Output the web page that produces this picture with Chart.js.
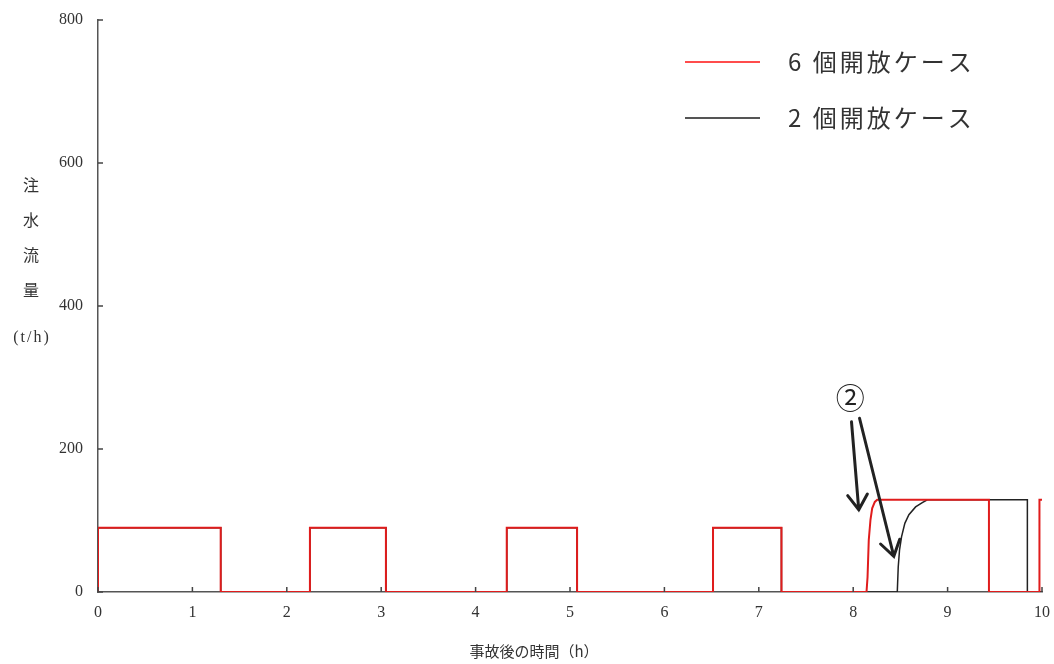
<!DOCTYPE html>
<html lang="ja">
<head>
<meta charset="utf-8">
<title>注水流量</title>
<script src="https://cdn.jsdelivr.net/npm/chart.js@4.4.1/dist/chart.umd.min.js"></script>
<style>
  body { margin: 0; background: #fff; }
  #wrap { width: 1054px; height: 664px; }
</style>
</head>
<body>
<div id="wrap"><canvas id="flowChart" width="1054" height="664"></canvas></div>
<script>
// --- Data ---

// 6 個開放ケース (red)
const redTimes = [0, 0, 1.30, 1.30, 2.245, 2.245, 3.05, 3.05, 4.33, 4.33, 5.075, 5.075,
    6.515, 6.515, 7.24, 7.24, 8.141, 8.152, 8.165, 8.183, 8.201, 8.229, 8.254,
    9.438, 9.438, 9.973, 9.973, 10.0];
const redFlow = [0, 90, 90, 0, 0, 90, 90, 0, 0, 90, 90, 0,
    0, 90, 90, 0, 0, 21, 73, 101, 117, 126, 129,
    129, 0, 0, 129, 129];

// 2 個開放ケース (black)
const blackTimes = [0, 0, 1.30, 1.30, 2.245, 2.245, 3.05, 3.05, 4.33, 4.33, 5.075, 5.075,
    6.515, 6.515, 7.24, 7.24, 8.467, 8.477, 8.491, 8.512, 8.547, 8.590, 8.661, 8.732, 8.785,
    9.845, 9.845, 10.0];
const blackFlow = [0, 90, 90, 0, 0, 90, 90, 0, 0, 90, 90, 0,
    0, 90, 90, 0, 0, 35, 59, 77, 96, 108, 119, 125, 129,
    129, 0, 0];

const seriesLabels = ['6 個開放ケース', '2 個開放ケース'];
const xTicks = [0, 1, 2, 3, 4, 5, 6, 7, 8, 9, 10];
const yTicks = [0, 200, 400, 600, 800];

// annotation ②: arrow tails / heads in data units (h, t/h)
const arrowTails = [[7.982, 238], [8.067, 243]];
const arrowHeads = [[8.059, 115], [8.43, 50]];
const markLabel = '②';
const markAt = [7.97, 271];

const xTitle = '事故後の時間（h）';
const yTitleChars = ['注', '水', '流', '量', '(t/h)'];

// --- Helpers ---

const SERIF = "'Liberation Serif', 'Noto Sans CJK JP', serif";
const JP = "'Noto Sans CJK JP', 'Liberation Serif', sans-serif";

function toPoints(xs, ys) {
    return xs.map((x, i) => ({ x: x, y: ys[i] }));
}

// inner tick marks, axis titles, legend and the ② arrows
const decorPlugin = {
    id: 'decor',
    afterDraw(chart) {
        const { ctx, chartArea, scales } = chart;
        const xs = scales.x, ys = scales.y;
        ctx.save();

        // tick marks pointing inward
        ctx.strokeStyle = '#444';
        ctx.lineWidth = 1.5;
        ctx.beginPath();
        xTicks.forEach(t => {
            const px = xs.getPixelForValue(t);
            ctx.moveTo(px, chartArea.bottom);
            ctx.lineTo(px, chartArea.bottom - 5);
        });
        yTicks.forEach(t => {
            const py = ys.getPixelForValue(t);
            ctx.moveTo(chartArea.left, py);
            ctx.lineTo(chartArea.left + 5, py);
        });
        ctx.stroke();

        // y axis title, stacked
        ctx.fillStyle = '#333';
        ctx.textAlign = 'center';
        ctx.textBaseline = 'middle';
        yTitleChars.forEach((c, i) => {
            if (i < 4) {
                ctx.font = '16px ' + JP;
                ctx.fillText(c, 31, 185 + i * 35);
            } else {
                ctx.font = '16px ' + SERIF;
                ctx.letterSpacing = '2px';
                ctx.fillText(c, 32, 338);
                ctx.letterSpacing = '0px';
            }
        });

        // x axis title
        ctx.font = '15px ' + JP;
        ctx.fillText(xTitle, 534, 651);

        // legend
        const legendColors = ['#ff1010', '#555'];
        const legendWidths = [1.5, 2];
        seriesLabels.forEach((lab, i) => {
            const y = 62 + i * 56;
            ctx.strokeStyle = legendColors[i];
            ctx.lineWidth = legendWidths[i];
            ctx.beginPath();
            ctx.moveTo(685, y);
            ctx.lineTo(760, y);
            ctx.stroke();
            ctx.fillStyle = '#333';
            ctx.textAlign = 'left';
            ctx.font = '24px ' + JP;
            ctx.letterSpacing = '3px';
            ctx.fillText(lab, 788, y);
            ctx.letterSpacing = '0px';
        });

        // ② and arrows
        ctx.fillStyle = '#222';
        ctx.textAlign = 'center';
        ctx.font = '29px ' + JP;
        ctx.fillText(markLabel, xs.getPixelForValue(markAt[0]), ys.getPixelForValue(markAt[1]));

        ctx.strokeStyle = '#222';
        ctx.lineWidth = 3;
        ctx.lineCap = 'round';
        arrowTails.forEach((tail, i) => {
            const x0 = xs.getPixelForValue(tail[0]), y0 = ys.getPixelForValue(tail[1]);
            const x1 = xs.getPixelForValue(arrowHeads[i][0]), y1 = ys.getPixelForValue(arrowHeads[i][1]);
            const ang = Math.atan2(y1 - y0, x1 - x0);
            const len = 18, spread = 0.58;
            ctx.beginPath();
            ctx.moveTo(x0, y0);
            ctx.lineTo(x1, y1);
            ctx.moveTo(x1 - len * Math.cos(ang - spread), y1 - len * Math.sin(ang - spread));
            ctx.lineTo(x1, y1);
            ctx.lineTo(x1 - len * Math.cos(ang + spread), y1 - len * Math.sin(ang + spread));
            ctx.stroke();
        });

        ctx.restore();
    }
};

// --- Chart ---

function renderChart() {
    const ctx = document.getElementById('flowChart').getContext('2d');
    new Chart(ctx, {
        type: 'line',
        data: {
            datasets: [{
                label: seriesLabels[0],
                data: toPoints(redTimes, redFlow),
                borderColor: '#e01c1c',
                borderWidth: 2,
                pointRadius: 0,
                tension: 0,
                order: 0
            }, {
                label: seriesLabels[1],
                data: toPoints(blackTimes, blackFlow),
                borderColor: '#222',
                borderWidth: 1.5,
                pointRadius: 0,
                tension: 0,
                order: 1
            }]
        },
        options: {
            responsive: false,
            animation: false,
            layout: { autoPadding: false, padding: { top: 20, right: 12, left: 0, bottom: 0 } },
            plugins: {
                legend: { display: false },
                tooltip: { enabled: false }
            },
            scales: {
                x: {
                    type: 'linear',
                    min: 0,
                    max: 10,
                    afterBuildTicks: (scale) => { scale.ticks = xTicks.map(v => ({ value: v })); },
                    grid: { display: false, drawTicks: false },
                    border: { display: true, color: '#555', width: 1.5 },
                    ticks: { color: '#333', padding: 11, maxRotation: 0, font: { family: SERIF, size: 16 } },
                    afterFit: (scale) => {
                        scale.height = 72;
                        scale.paddingLeft = 0;
                        scale.paddingRight = 0;
                    }
                },
                y: {
                    min: 0,
                    max: 800,
                    afterBuildTicks: (scale) => { scale.ticks = yTicks.map(v => ({ value: v })); },
                    grid: { display: false, drawTicks: false },
                    border: { display: true, color: '#555', width: 1.5 },
                    ticks: { color: '#333', padding: 15, font: { family: SERIF, size: 16 } },
                    afterFit: (scale) => {
                        scale.width = 98;
                        scale.paddingTop = 0;
                        scale.paddingBottom = 0;
                    }
                }
            }
        },
        plugins: [decorPlugin]
    });
}

renderChart();
</script>
</body>
</html>
